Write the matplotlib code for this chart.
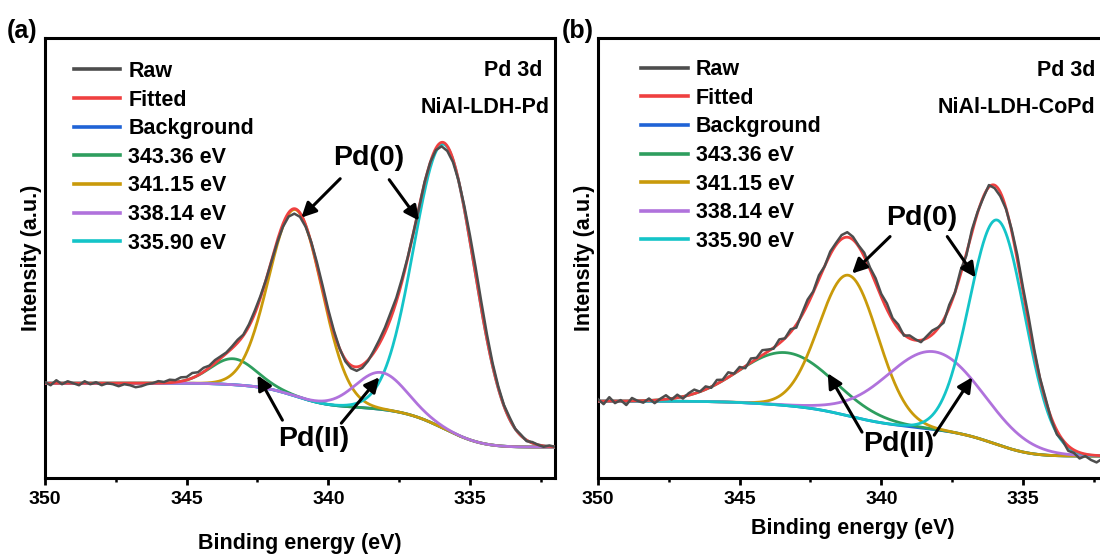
import math

import matplotlib
import matplotlib.pyplot as plt
import numpy as np

matplotlib.use("Agg")

plt.rcParams["font.family"] = ["Liberation Sans", "DejaVu Sans"]
plt.rcParams["font.weight"] = "bold"
plt.rcParams["axes.labelweight"] = "bold"

# fitted Pd 3d components (legend values), shared by both samples
PEAK_LABELS = ["343.36 eV", "341.15 eV", "338.14 eV", "335.90 eV"]
PEAK_CENTERS = [343.36, 341.15, 338.14, 335.90]
PEAK_COLORS = ["#2e9e5e", "#c99a0a", "#b072dc", "#14c4c8"]

# (a) NiAl-LDH-Pd: heights above background (a.u.), FWHM (eV)
PD_HEIGHTS = [26, 187, 37, 285]
PD_FWHM = [1.9, 2.2, 2.1, 2.5]
PD_BG_ENDS = [95, 31]  # background at 350 eV and at 332 eV
# raw minus fit, every 0.2 eV from 350 to 332 eV
PD_RAW_RESID = [
    1, -2, 3, -1, 2, 0, -2, 2, -1, 1,
    -2, 0, -1, -3, -1, -2, -4, -3, -1, 0,
    2, 1, 3, 2, 4, 3, 5, 3, 4, 2,
    3, 2, 1, 2, 3, 1, 2, 3, 2, 0,
    -1, -2, -3, -4, -5, -4, -2, 1, 3, 4,
    3, 2, 0, -2, -3, -4, -3, -1, 2, 4,
    5, 6, 4, 3, 1, 0, -1, 1, 0, -2,
    -4, -5, -3, 0, 3, 6, 8, 7, 5, 3,
    2, 1, 2, 0, 1, -1, 1, 0, -1, 1, 0,
]

# (b) NiAl-LDH-CoPd
COPD_HEIGHTS = [53, 141, 78, 225]
COPD_FWHM = [3.9, 2.45, 4.0, 2.3]
COPD_BG_ENDS = [77, 22]
COPD_RAW_RESID = [
    2, -3, 4, -2, 1, -4, 3, 0, -2, 2,
    -3, 1, 4, -1, 3, -2, 2, 4, 0, 3,
    -1, 4, 1, 5, 0, 3, -2, 4, 1, 5,
    2, -1, 4, 0, 3, -3, 2, 5, 1, 4,
    0, 3, 2, 4, 5, 3, 1, 4, 2, 5,
    3, 6, 2, 4, -1, 3, 1, -2, 2, 4,
    1, -3, 3, 0, 4, -2, 3, 1, -1, 2,
    -3, -4, -1, 2, 5, 4, 6, 3, 1, 2,
    -2, -4, -1, -5, -3, -6, -2, -5, -7, -3, -5,
]

RAW_COLOR = "#4d4d4d"
FIT_COLOR = "#ef4040"
BG_COLOR = "#1f63d6"


def gauss(e, center, height, fwhm):
    sigma = fwhm / 2.3548
    return height * np.exp(-0.5 * ((e - center) / sigma) ** 2)


def shirley(e, heights, fwhm, ends):
    sigmas = np.array(fwhm) / 2.3548
    areas = np.array(heights) * sigmas
    frac = np.zeros_like(e)
    for c, s, a in zip(PEAK_CENTERS, sigmas, areas):
        frac += a * np.array([0.5 * (1 + math.erf((x - c) / (s * math.sqrt(2)))) for x in e])
    frac /= areas.sum()
    return ends[1] + (ends[0] - ends[1]) * frac


def draw_panel(ax, heights, fwhm, bg_ends, resid, sample, tag, comp_order, opts):
    e = np.linspace(350, 332, 721)
    bg = shirley(e, heights, fwhm, bg_ends)
    peaks = [gauss(e, c, h, w) for c, h, w in zip(PEAK_CENTERS, heights, fwhm)]
    fit = bg + np.sum(peaks, axis=0)
    raw = fit[::8] + np.array(resid)

    lw = 2.0
    ax.plot(e[::8], raw, color=RAW_COLOR, lw=1.8, label="Raw", zorder=5)
    ax.plot(e, fit, color=FIT_COLOR, lw=lw, label="Fitted", zorder=4)
    ax.plot(e, bg, color=BG_COLOR, lw=lw, label="Background", zorder=2)
    for k in range(4):
        ax.plot(e, bg + peaks[k], color=PEAK_COLORS[k], lw=lw,
                label=PEAK_LABELS[k], zorder=3 + 0.1 * comp_order[k])

    ax.set_xlim(350, 332)
    ax.set_ylim(0, 441)
    ax.set_yticks([])
    ax.set_xticks([350, 345, 340, 335])
    ax.set_xticks([347.5, 342.5, 337.5, 332.5], minor=True)
    ax.tick_params(axis="x", which="major", length=5, width=2, labelsize=14, pad=4.5)
    ax.tick_params(axis="x", which="minor", length=3, width=1.8)
    for sp in ax.spines.values():
        sp.set_linewidth(2.2)
    ax.set_ylabel("Intensity (a.u.)", fontsize=15.5, labelpad=2)

    leg = ax.legend(loc="upper left", bbox_to_anchor=opts["leg"], frameon=False,
                    fontsize=15.5, handlelength=2.15, handletextpad=0.37,
                    labelspacing=0.355, borderpad=0, borderaxespad=0)
    for line in leg.get_lines():
        line.set_linewidth(2.6)

    ax.text(0.975, 0.927, "Pd 3d", transform=ax.transAxes, ha="right", va="center",
            fontsize=15.5)
    ax.text(opts["name_x"], 0.841, sample, transform=ax.transAxes, ha="right",
            va="center", fontsize=15.5)
    ax.text(opts["tag_x"], 1.016, tag, transform=ax.transAxes, ha="center", va="center",
            fontsize=18)

    ax.text(*opts["pd0"], "Pd(0)", ha="center", va="center", fontsize=20.5)
    ax.text(*opts["pd2"], "Pd(II)", ha="center", va="center", fontsize=20.5)
    for tail, tip in opts["lines"]:
        ax.annotate("", xy=tip, xytext=tail,
                    arrowprops=dict(arrowstyle="-|>", color="black", lw=2.2,
                                    mutation_scale=22, shrinkA=0, shrinkB=0),
                    zorder=8)


fig = plt.figure(figsize=(11, 5.55), dpi=100)
ax_a = fig.add_axes([0.0409, 0.1387, 0.4636, 0.7928])
ax_b = fig.add_axes([0.5436, 0.1387, 0.4636, 0.7928])

draw_panel(
    ax_a, PD_HEIGHTS, PD_FWHM, PD_BG_ENDS, PD_RAW_RESID, "NiAl-LDH-Pd", "(a)",
    comp_order=[0, 1, 3, 2],
    opts={
        "leg": (0.057, 0.948),
        "name_x": 0.99,
        "tag_x": -0.045,
        "pd0": (338.59, 321),
        "pd2": (340.53, 39),
        "lines": [
            ((339.58, 300), (340.95, 261)),
            ((337.85, 299), (336.80, 258)),
            ((341.62, 58), (342.50, 103)),
            ((339.54, 55), (338.20, 101)),
        ],
    },
)
ax_a.set_xlabel("Binding energy (eV)", fontsize=15.5, labelpad=18)

draw_panel(
    ax_b, COPD_HEIGHTS, COPD_FWHM, COPD_BG_ENDS, COPD_RAW_RESID, "NiAl-LDH-CoPd", "(b)",
    comp_order=[0, 1, 2, 3],
    opts={
        "leg": (0.085, 0.952),
        "name_x": 0.975,
        "tag_x": -0.039,
        "pd0": (338.59, 261),
        "pd2": (339.40, 34),
        "lines": [
            ((339.69, 242), (341.03, 205)),
            ((337.67, 242), (336.67, 201)),
            ((340.68, 46), (341.89, 105)),
            ((338.13, 43), (336.79, 101)),
        ],
    },
)
ax_b.set_xlabel("Binding energy (eV)", fontsize=15.5, labelpad=7)

fig.savefig("out.png", dpi=100)
